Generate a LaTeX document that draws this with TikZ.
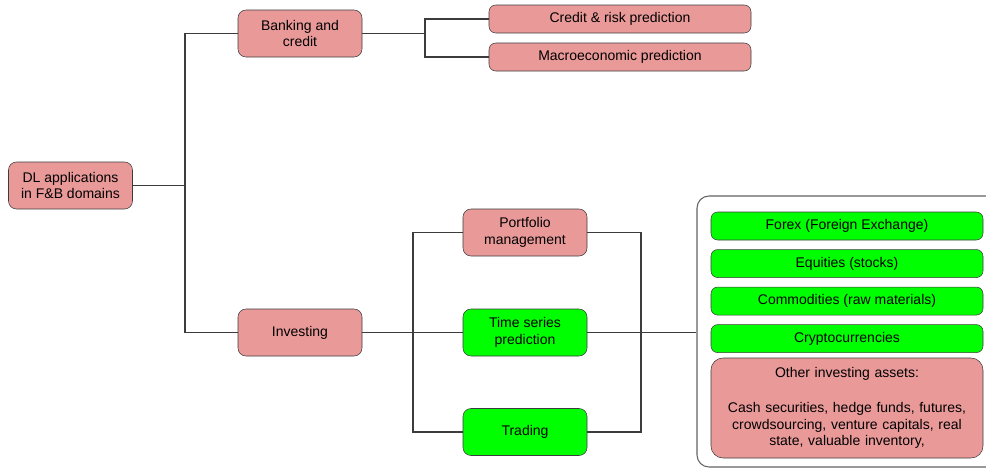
\documentclass[tikz,border=0pt]{standalone}
\usepackage{fontspec}
\setmainfont{Liberation Sans}
\usetikzlibrary{positioning}

\definecolor{boxred}{HTML}{EA9999}
\definecolor{boxgreen}{HTML}{00FF00}
\definecolor{edgegray}{HTML}{3C3C3C}

\begin{document}
\begin{tikzpicture}[x=0.75pt,y=-0.75pt,node distance=6.75pt,
        topic/.style={rectangle,rounded corners=6pt,draw=edgegray,fill=boxred,align=center,
            minimum width=93pt,minimum height=35.25pt,inner sep=0pt},
        goodtopic/.style={topic,fill=boxgreen},
        leaf/.style={rectangle,rounded corners=5pt,draw=edgegray,fill=boxred,
            minimum width=196.5pt,minimum height=21pt,inner sep=0pt},
        asset/.style={leaf,fill=boxgreen,minimum width=204pt},
        link/.style={draw=edgegray,line width=0.8pt}
        ]
        \fontsize{10.5}{12.2}\selectfont
        \useasboundingbox (0,0) rectangle (986,468);
        \node (root)   [topic] at (70.5,185.5)  {DL applications\\in F\&B domains};
        \node (bank)   [topic] at (300,33.5)    {Banking and\\credit};
        \node (inv)    [topic] at (300,332.5)   {Investing};
        \node (credit) [leaf]  at (620,19)      {Credit \& risk prediction};
        \node (macro)  [leaf]  at (620,57)      {Macroeconomic prediction};
        \node (port)   [topic] at (525,232.5)   {Portfolio\\management};
        \node (tsp)    [goodtopic] at (525,332.5) {Time series\\prediction};
        \node (trad)   [goodtopic] at (525,432)   {Trading};
        \node (assets) [rectangle,rounded corners=9pt,draw=edgegray!80,line width=0.8pt,
            minimum width=234.75pt,minimum height=203.25pt] at (853.5,331.5) {};
        \node (forex)  [asset] at (847,226)     {Forex (Foreign Exchange)};
        \node (equ)    [asset,below=of forex]   {Equities (stocks)};
        \node (comm)   [asset,below=of equ]     {Commodities (raw materials)};
        \node (crypto) [asset,below=of comm]    {Cryptocurrencies};
        \node (other)  [asset,fill=boxred,rounded corners=9pt,minimum height=75pt,
            text width=204pt,align=center] at (847,408)
            {Other investing assets:\\[14pt]Cash securities, hedge funds, futures,\\
             crowdsourcing, venture capitals, real\\state, valuable inventory,};
        \coordinate (j1) at (185,185.5);
        \coordinate (j2) at (425,33.5);
        \coordinate (j3) at (413,332.5);
        \coordinate (j4) at (641,332.5);
        \draw[link] (root) -- (j1);
        \draw[link] (j1) |- (bank);
        \draw[link] (j1) |- (inv);
        \draw[link] (bank) -- (j2);
        \draw[link] (j2) |- (credit);
        \draw[link] (j2) |- (macro);
        \draw[link] (inv) -- (tsp);
        \draw[link] (j3) |- (port);
        \draw[link] (j3) |- (trad);
        \draw[link] (port) -| (j4);
        \draw[link] (trad) -| (j4);
        \draw[link] (tsp) -- (tsp -| assets.west);
    \end{tikzpicture}
\end{document}
